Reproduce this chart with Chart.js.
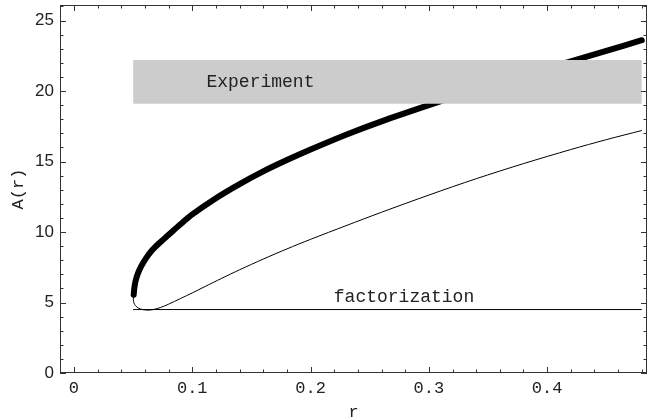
<!DOCTYPE html>
<html>
<head>
<meta charset="utf-8">
<script src="https://cdn.jsdelivr.net/npm/chart.js@4/dist/chart.umd.min.js"></script>
<style>
  html, body { margin: 0; padding: 0; background: #fff; }
</style>
</head>
<body>
<canvas id="chart" width="648" height="419"></canvas>
<script>
// thick curve
const thickR = [0.0505, 0.051, 0.052, 0.054, 0.057, 0.061, 0.066, 0.072, 0.08, 0.09, 0.1, 0.12,
  0.14, 0.16, 0.18, 0.2, 0.23, 0.26, 0.3, 0.34, 0.38, 0.42, 0.45, 0.48]
const thickA = [5.55, 6.0, 6.5, 7.05, 7.6, 8.15, 8.7, 9.2, 9.8, 10.55, 11.25, 12.4,
  13.4, 14.3, 15.1, 15.85, 16.9, 17.85, 19.0, 20.1, 21.1, 22.1, 22.85, 23.6]

// thin curve (lower branch)
const thinR = [0.0505, 0.0502, 0.0508, 0.052, 0.0545, 0.058, 0.0625, 0.067, 0.073, 0.08, 0.09, 0.1,
  0.11, 0.125, 0.14, 0.16, 0.18, 0.2, 0.23, 0.26, 0.3, 0.34, 0.38, 0.42, 0.45, 0.48]
const thinA = [5.5, 5.2, 4.95, 4.78, 4.6, 4.5, 4.46, 4.5, 4.64, 4.88, 5.28, 5.68,
  6.1, 6.72, 7.32, 8.08, 8.8, 9.48, 10.45, 11.4, 12.62, 13.78, 14.85, 15.85, 16.55, 17.2]

// experiment band and factorization level
const bandR = [0.05, 0.48]
const bandLow = 19.1
const bandHigh = 22.2
const factR = [0.05, 0.48]
const factA = 4.5

const xTicks = [0, 0.1, 0.2, 0.3, 0.4]
const yTicks = [0, 5, 10, 15, 20, 25]

const pts = (xs, ys) => xs.map((x, i) => ({ x, y: Array.isArray(ys) ? ys[i] : ys }))

const monoFont = '"Liberation Mono", "DejaVu Sans Mono", monospace'
const sansFont = '"Liberation Sans", Arial, sans-serif'

const framePlugin = {
  id: 'frame',
  afterDatasetsDraw(chart) {
    const { ctx, chartArea: a, scales: { x, y } } = chart
    ctx.save()
    ctx.strokeStyle = '#333'
    ctx.lineWidth = 1
    ctx.strokeRect(a.left + 0.5, a.top + 0.5, a.right - a.left - 1, a.bottom - a.top - 1)

    // ticks point inwards on all four sides, like the frame in the original
    const tick = (px, len, horiz) => {
      ctx.beginPath()
      if (horiz) {
        const xx = Math.round(px) + 0.5
        ctx.moveTo(xx, a.bottom); ctx.lineTo(xx, a.bottom - len)
        ctx.moveTo(xx, a.top); ctx.lineTo(xx, a.top + len)
      } else {
        const yy = Math.round(px) + 0.5
        ctx.moveTo(a.left, yy); ctx.lineTo(a.left + len, yy)
        ctx.moveTo(a.right, yy); ctx.lineTo(a.right - len, yy)
      }
      ctx.stroke()
    }
    for (let i = 0; i <= 24; i++) {
      tick(x.getPixelForValue(i * 0.02), i % 5 === 0 ? 6 : 3.5, true)
    }
    for (let i = 0; i <= 26; i++) {
      tick(y.getPixelForValue(i), i % 5 === 0 ? 6 : 3.5, false)
    }

    ctx.fillStyle = '#222'
    ctx.font = '17px ' + monoFont
    ctx.textAlign = 'center'
    ctx.textBaseline = 'middle'
    xTicks.forEach(v => ctx.fillText(String(v), x.getPixelForValue(v), a.bottom + 15))
    ctx.font = '17px ' + sansFont
    ctx.textAlign = 'right'
    yTicks.forEach(v => ctx.fillText(String(v), a.left - 6, y.getPixelForValue(v)))

    ctx.font = '17px ' + monoFont
    ctx.textAlign = 'center'
    ctx.fillText('r', (a.left + a.right) / 2, 412)
    ctx.save()
    ctx.translate(18, (a.top + a.bottom) / 2)
    ctx.rotate(-Math.PI / 2)
    ctx.fillText('A(r)', 0, 0)
    ctx.restore()

    ctx.font = '18px ' + monoFont
    ctx.textAlign = 'left'
    ctx.textBaseline = 'alphabetic'
    ctx.fillText('Experiment', x.getPixelForValue(0.112), y.getPixelForValue(20.3))
    ctx.textAlign = 'center'
    ctx.fillText('factorization', x.getPixelForValue(0.279), y.getPixelForValue(5.07))
    ctx.restore()
  }
}

new Chart(document.getElementById('chart'), {
  type: 'scatter',
  data: {
    datasets: [
      {
        data: pts(bandR, bandHigh),
        showLine: true,
        borderWidth: 0,
        borderColor: 'rgba(0,0,0,0)',
        backgroundColor: '#cccccc',
        fill: { value: bandLow },
        pointRadius: 0
      },
      {
        data: pts(factR, factA),
        showLine: true,
        borderColor: '#000',
        borderWidth: 1,
        pointRadius: 0
      },
      {
        data: pts(thinR, thinA),
        showLine: true,
        borderColor: '#000',
        borderWidth: 1,
        tension: 0.3,
        pointRadius: 0
      },
      {
        data: pts(thickR, thickA),
        showLine: true,
        borderColor: '#000',
        borderWidth: 6,
        borderCapStyle: 'round',
        borderJoinStyle: 'round',
        tension: 0.3,
        pointRadius: 0
      }
    ]
  },
  options: {
    responsive: false,
    devicePixelRatio: 1,
    animation: false,
    layout: { padding: { left: 60, top: 5, right: 1, bottom: 46 } },
    plugins: { legend: { display: false }, tooltip: { enabled: false } },
    scales: {
      x: { type: 'linear', min: -0.0118, max: 0.4844, display: false },
      y: { type: 'linear', min: 0, max: 26.1, display: false }
    }
  },
  plugins: [framePlugin]
})
</script>
</body>
</html>
